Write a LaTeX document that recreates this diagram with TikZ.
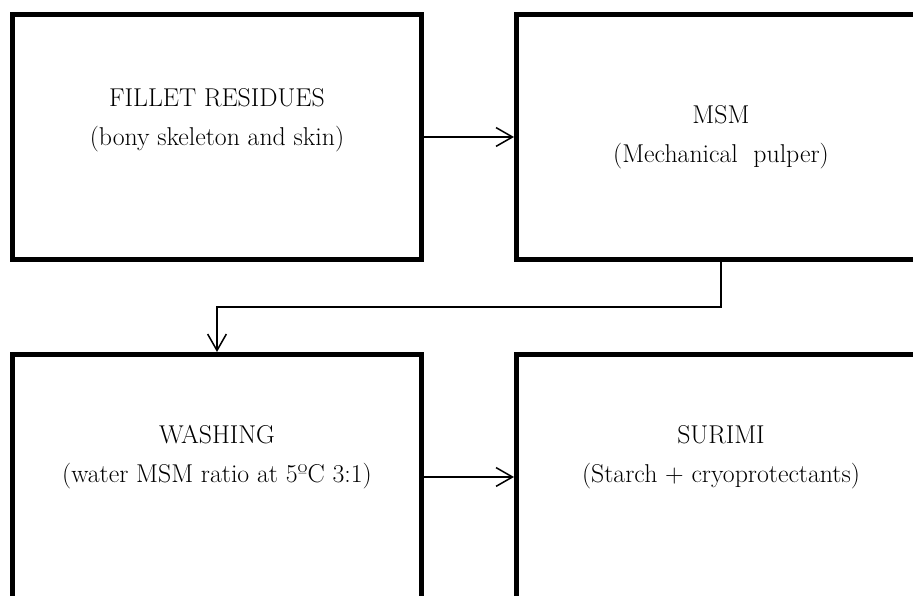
\documentclass[tikz,border=0pt]{standalone}
\usepackage{tikz}
\usetikzlibrary{arrows.meta, positioning}

\begin{document}
\begin{tikzpicture}[
			stepbox/.style={draw, line width=4.25pt, minimum width=12.27cm, minimum height=7.35cm, inner sep=0pt},
			boxtext/.style={anchor=base, align=center, font=\fontsize{22}{34}\selectfont},
			flow/.style={line width=1.3pt, -{Straight Barb[length=14pt, width=16pt, line width=1.3pt]}},
			node distance=2.7cm]
			\useasboundingbox (0, 0) rectangle (27.39, 17.88);
			\clip (0, 0) rectangle (27.39, 17.88);
			\node[stepbox] (fillet) at (6.51, 13.77) {};
			\node[stepbox, right=of fillet] (msm) {};
			\node[stepbox, below=of fillet] (washing) {};
			\node[stepbox, right=of washing] (surimi) {};
			\node[boxtext] (fillettext) at ([yshift=-0.27cm]fillet.center) {FILLET RESIDUES\\(bony skeleton and skin)};
			\node[boxtext] (msmtext) at ([yshift=-0.78cm]msm.center) {MSM\\(Mechanical~ pulper)};
			\node[boxtext] (washingtext) at ([yshift=-0.18cm]washing.center) {WASHING\\(water MSM ratio at 5ºC 3:1)};
			\node[boxtext] (surimitext) at ([yshift=-0.18cm]surimi.center) {SURIMI\\(Starch + cryoprotectants)};
			\draw [flow] (fillet.east) -- (msm.west);
			\draw [flow] (msm.south) -- ++(0, -1.35) -| (washing.north);
			\draw [flow] (washing.east) -- (surimi.west);
			\end{tikzpicture}
\end{document}
